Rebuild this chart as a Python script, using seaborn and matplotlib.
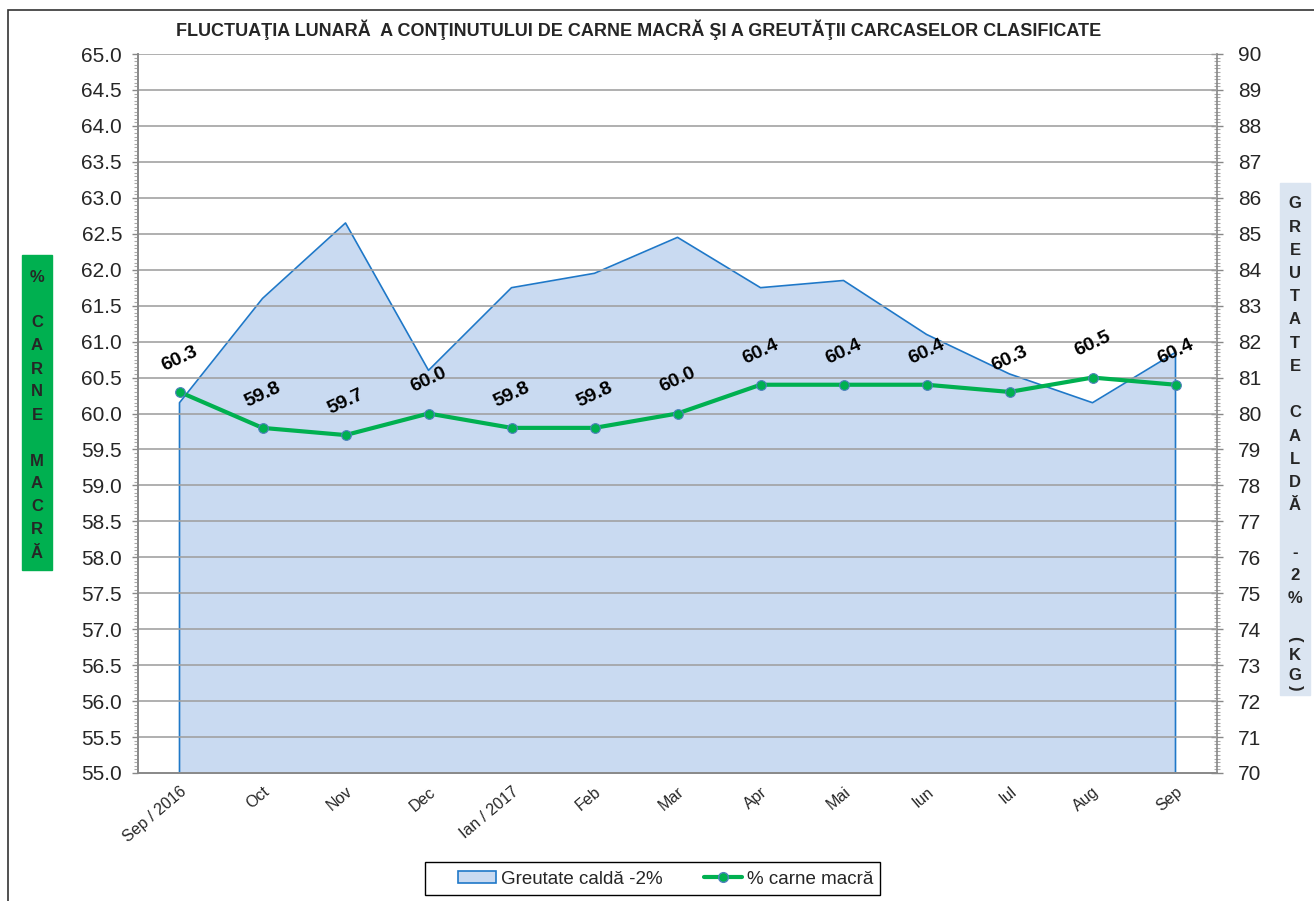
import numpy as np
import pandas as pd
import matplotlib
matplotlib.use("Agg")
import matplotlib.pyplot as plt
import seaborn as sns
from matplotlib.ticker import MultipleLocator, FixedLocator, NullFormatter
from matplotlib.patches import Rectangle
from matplotlib.lines import Line2D
from matplotlib.patches import Patch

# data
months = ['Sep / 2016', 'Oct', 'Nov', 'Dec', 'Ian / 2017', 'Feb', 'Mar',
          'Apr', 'Mai', 'Iun', 'Iul', 'Aug', 'Sep']
greutate = [80.3, 83.2, 85.3, 81.2, 83.5, 83.9, 84.9, 83.5, 83.7, 82.2, 81.1, 80.3, 81.7]
carne = [60.3, 59.8, 59.7, 60.0, 59.8, 59.8, 60.0, 60.4, 60.4, 60.4, 60.3, 60.5, 60.4]

title = 'FLUCTUAŢIA LUNARĂ  A CONŢINUTULUI DE CARNE MACRĂ ŞI A GREUTĂŢII CARCASELOR CLASIFICATE'
left_label = ['%', '', 'C', 'A', 'R', 'N', 'E', '', 'M', 'A', 'C', 'R', 'Ă']
right_label = ['G', 'R', 'E', 'U', 'T', 'A', 'T', 'E', '', 'C', 'A', 'L', 'D', 'Ă', '', '-', '2', '%']

GREEN = '#00b050'
AREA_FILL = '#c9daf1'
AREA_EDGE = '#1f78c8'
GRID = '#a0a0a0'

W, H = 1314, 901


def fx(px):
    return px / W


def fy(py):
    return 1 - py / H


def main():
    sns.set_style('white')
    plt.rcParams['font.family'] = ['Liberation Sans', 'DejaVu Sans']

    df = pd.DataFrame({'idx': np.arange(len(months)), 'month': months,
                       'greutate': greutate, 'carne': carne})

    fig = plt.figure(figsize=(W / 100, H / 100), dpi=100)
    ax1 = fig.add_axes([fx(138), fy(773), fx(1217 - 138), (773 - 54) / H])
    ax2 = ax1.twinx()

    # area on the right axis
    ax2.fill_between(df['idx'], df['greutate'], 70, color=AREA_FILL, lw=0, zorder=1)
    xs = [df['idx'].iloc[0]] + list(df['idx']) + [df['idx'].iloc[-1]]
    ys = [70] + list(df['greutate']) + [70]
    ax2.plot(xs, ys, color=AREA_EDGE, lw=1.2, zorder=2)
    ax2.set_ylim(70, 90)

    # line on the left axis, drawn above the area
    ax1.set_zorder(ax2.get_zorder() + 1)
    ax1.patch.set_visible(False)
    sns.lineplot(data=df, x='idx', y='carne', ax=ax1, color=GREEN, lw=3,
                 marker='o', markersize=7, markerfacecolor=GREEN,
                 markeredgecolor='#4f81bd', markeredgewidth=0.8, zorder=5)
    for i, v in zip(df['idx'], df['carne']):
        ax1.annotate(f'{v:.1f}', (i, v), xytext=(0, 24), textcoords='offset points',
                     ha='center', va='center', rotation=25, rotation_mode='anchor',
                     fontsize=14, fontweight='bold', color='black', zorder=6)

    ax1.set_ylim(55, 65)
    ax1.set_xlim(-0.5, len(months) - 0.5)
    ax1.set_xlabel('')
    ax1.set_ylabel('')
    ax2.set_ylabel('')

    # y ticks
    ax1.yaxis.set_major_locator(MultipleLocator(0.5))
    ax1.yaxis.set_minor_locator(MultipleLocator(0.05))
    ax1.set_yticks(ax1.get_yticks())
    ax1.set_yticklabels([f'{t:.1f}' for t in ax1.get_yticks()])
    ax1.tick_params(axis='y', which='major', direction='out', length=4, width=1,
                    color='#888888', labelsize=15, pad=7.5)
    ax1.tick_params(axis='y', which='minor', direction='out', length=3, width=0.8,
                    color='#aaaaaa')
    ax1.set_ylim(55, 65)

    ax2.yaxis.set_major_locator(MultipleLocator(1))
    ax2.yaxis.set_minor_locator(MultipleLocator(0.1))
    ax2.tick_params(axis='y', which='major', direction='inout', length=9, width=1,
                    color='#888888', labelsize=15, pad=10.5)
    ax2.tick_params(axis='y', which='minor', direction='inout', length=5, width=0.8,
                    color='#aaaaaa')

    # x ticks: marks at category boundaries, labels at category centres
    bounds = np.arange(-0.5, len(months), 1.0)
    ax1.xaxis.set_major_locator(FixedLocator(bounds))
    ax1.xaxis.set_major_formatter(NullFormatter())
    ax1.xaxis.set_minor_locator(FixedLocator(df['idx']))
    ax1.set_xticklabels(months, minor=True, rotation=40, ha='right', va='top',
                        rotation_mode='anchor', fontsize=11.5)
    ax1.tick_params(axis='x', which='major', direction='out', length=6, width=1,
                    color='#888888')
    ax1.tick_params(axis='x', which='minor', length=0, pad=8)
    ax2.set_xticks([])

    ax1.grid(True, which='major', axis='both', color=GRID, lw=1.3, alpha=0.9)

    for ax in (ax1, ax2):
        for s in ax.spines.values():
            s.set_color('#888888')
            s.set_linewidth(1.2)
        ax.spines['top'].set_visible(False)
    ax1.spines['right'].set_visible(False)

    # title
    fig.text(fx(639), fy(30), title, ha='center', va='center',
             fontsize=13, fontweight='bold')

    # left axis label box
    fig.patches.append(Rectangle((fx(22), fy(570)), fx(30), (570 - 255) / H,
                                 transform=fig.transFigure, color=GREEN, zorder=0))
    for k, ch in enumerate(left_label):
        if ch:
            fig.text(fx(37), fy(277 + 23 * k), ch, ha='center', va='center',
                     fontsize=12, fontweight='bold')

    # right axis label box
    fig.patches.append(Rectangle((fx(1280), fy(695)), fx(30), (695 - 183) / H,
                                 transform=fig.transFigure, color='#dbe5f1', zorder=0))
    for k, ch in enumerate(right_label):
        if ch:
            fig.text(fx(1295), fy(204 + 23.2 * k), ch, ha='center', va='center',
                     fontsize=12, fontweight='bold')
    fig.text(fx(1295), fy(639), '(', ha='center', va='center', rotation=-90,
             fontsize=12, fontweight='bold')
    fig.text(fx(1295), fy(655), 'K', ha='center', va='center',
             fontsize=12, fontweight='bold')
    fig.text(fx(1295), fy(675), 'G', ha='center', va='center',
             fontsize=12, fontweight='bold')
    fig.text(fx(1295), fy(688), ')', ha='center', va='center', rotation=-90,
             fontsize=12, fontweight='bold')

    # outer border
    fig.patches.append(Rectangle((fx(8), fy(912)), fx(1320), (912 - 10) / H,
                                 transform=fig.transFigure, fill=False,
                                 edgecolor='#333333', lw=1.2, clip_on=False))

    # legend (frame drawn separately so the inner padding matches)
    handles = [Patch(facecolor=AREA_FILL, edgecolor=AREA_EDGE, lw=1.2),
               Line2D([0], [0], color=GREEN, lw=3, marker='o', markersize=7,
                      markerfacecolor=GREEN, markeredgecolor='#4f81bd')]
    fig.legend(handles, ['Greutate caldă -2%', '% carne macră'],
               loc='center', bbox_to_anchor=(fx(666), fy(879)), ncol=2,
               fontsize=13.5, frameon=False,
               handlelength=2.0, handleheight=0.55, columnspacing=2.2,
               borderpad=0.2, handletextpad=0.3)
    fig.patches.append(Rectangle((fx(425), fy(895)), fx(880 - 425), (895 - 862) / H,
                                 transform=fig.transFigure, fill=False,
                                 edgecolor='black', lw=1.0))

    fig.savefig('out.png', dpi=100)
    plt.close(fig)


if __name__ == "__main__":
    main()
